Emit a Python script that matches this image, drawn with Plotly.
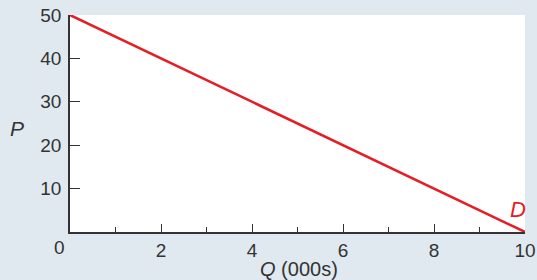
import plotly.graph_objects as go

# Data
quantity = [0, 10]          # Q (000s)
price = [50, 0]             # P
x_major_ticks = [2, 4, 6, 8, 10]
x_major_labels = ["2", "4", "6", "8", "10"]
x_minor_ticks = [1, 3, 5, 7, 9]
y_ticks = [10, 20, 30, 40, 50]
y_labels = ["10", "20", "30", "40", "50"]

FONT = "Liberation Sans, Arial, sans-serif"
TXT = "#333333"
RED = "#e41e26"
BG = "#e1e9f0"

W, H = 537, 280
L, R, T, B = 70, 12, 15, 48
pw, ph = W - L - R, H - T - B

fig = go.Figure()
fig.add_trace(go.Scatter(x=quantity, y=price, mode="lines",
                         line=dict(color=RED, width=2.5), hoverinfo="skip",
                         showlegend=False, cliponaxis=False))

fig.update_xaxes(range=[0, 10], tickmode="array", tickvals=x_major_ticks,
                 ticktext=x_major_labels, ticks="inside", ticklen=8, tickwidth=1.3,
                 tickcolor=TXT, showline=True, linecolor=TXT, linewidth=1.5,
                 showgrid=False, zeroline=False, automargin=False,
                 tickfont=dict(family=FONT, size=19, color=TXT),
                 minor=dict(tickvals=x_minor_ticks, ticks="inside", ticklen=5,
                            tickwidth=1.3, tickcolor=TXT, showgrid=False))
fig.update_yaxes(range=[0, 50], tickmode="array", tickvals=y_ticks,
                 ticktext=y_labels, ticks="inside", ticklen=10, tickwidth=1.3,
                 tickcolor=TXT, showline=True, linecolor=TXT, linewidth=1.5,
                 showgrid=False, zeroline=False, automargin=False,
                 ticklabelstandoff=3,
                 tickfont=dict(family=FONT, size=19, color=TXT))

def px_ann(px, py, text, size, color=TXT):
    return dict(x=(px - L) / pw, y=(H - B - py) / ph, xref="paper", yref="paper",
                xanchor="center", yanchor="middle",
                text=text, showarrow=False, font=dict(family=FONT, size=size, color=color))

annotations = [
    px_ann(59, 247, "0", 19),
    px_ann(17, 128, "<i>P</i>", 21),
    px_ann(299, 269, "<i>Q</i> (000s)", 20),
    px_ann(518, 209, "<i>D</i>", 22, RED),
]
fig.update_layout(annotations=annotations)

fig.update_layout(width=W, height=H, margin=dict(l=L, r=R, t=T, b=B),
                  paper_bgcolor=BG, plot_bgcolor="white")

fig.write_html("out.html", config={"displayModeBar": False},
               post_script="document.body.style.margin='0';document.body.style.overflow='hidden';")
